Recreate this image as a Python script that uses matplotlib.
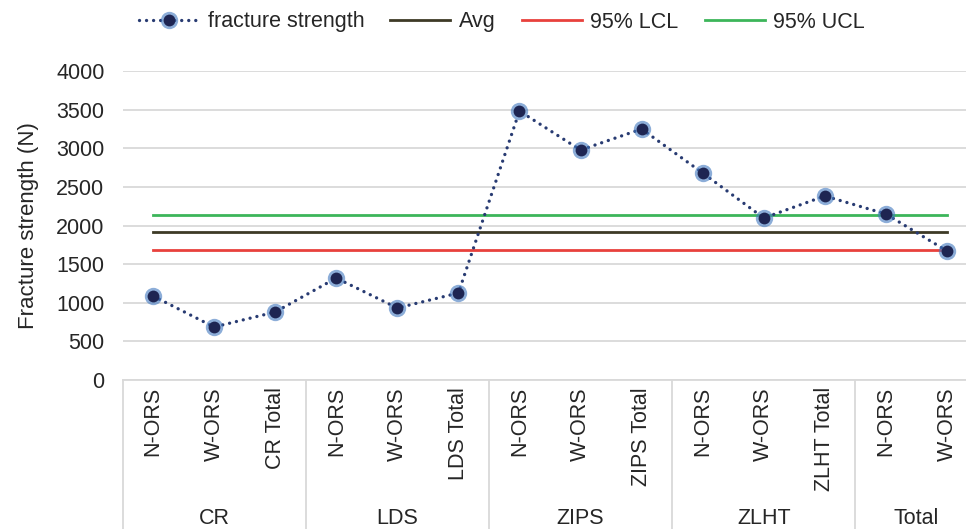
import matplotlib.pyplot as plt
from matplotlib.lines import Line2D
import matplotlib.transforms as mtransforms

plt.rcParams['font.family'] = ['Liberation Sans', 'DejaVu Sans']

# data
groups = ['CR', 'LDS', 'ZIPS', 'ZLHT', 'Total']
sub_labels = ['N-ORS', 'W-ORS', 'CR Total',
              'N-ORS', 'W-ORS', 'LDS Total',
              'N-ORS', 'W-ORS', 'ZIPS Total',
              'N-ORS', 'W-ORS', 'ZLHT Total',
              'N-ORS', 'W-ORS']
group_sizes = [3, 3, 3, 3, 2]
strength = [1087, 686, 880, 1320, 932, 1126, 3482, 2977, 3249,
            2680, 2097, 2382, 2149, 1670]
avg = 1916
lcl = 1683
ucl = 2136

W, H = 966, 529
FS = 15.5
TXT = '#262626'
fig = plt.figure(figsize=(W / 100, H / 100), dpi=100)
left, right, top, bottom = 122.5, 977.5, 71, 380
ax = fig.add_axes([left / W, (H - bottom) / H, (right - left) / W, (bottom - top) / H])

x = list(range(len(strength)))
ax.set_xlim(-0.5, len(strength) - 0.5)
ax.set_ylim(0, 4000)
ax.set_yticks(range(0, 4001, 500))
ax.yaxis.grid(True, color='#d9d9d9', linewidth=1.3)
ax.set_axisbelow(True)
for s in ax.spines.values():
    s.set_visible(False)
ax.tick_params(axis='y', length=0, pad=13, labelsize=FS, labelcolor=TXT)
ax.tick_params(axis='x', length=0, labelbottom=False)

dots = (0, (0.01, 2.1))
ax.plot([x[0], x[-1]], [ucl, ucl], color='#3cb55a', lw=2, zorder=2)
ax.plot([x[0], x[-1]], [avg, avg], color='#3d3a26', lw=2, zorder=2)
ax.plot([x[0], x[-1]], [lcl, lcl], color='#e8413c', lw=2, zorder=2)
ax.plot(x, strength, linestyle=dots, dash_capstyle='round', color='#283b72', lw=2.4, zorder=3)
ax.plot(x, strength, 'o', markersize=12.5, color='#3f77bf', alpha=0.6, zorder=4, mew=0)
ax.plot(x, strength, 'o', markersize=8.5, color='#1e2552', zorder=5, mew=0)

ax.set_ylabel('Fracture strength (N)', fontsize=16, color=TXT, labelpad=12)

# category axis below the plot
trans = mtransforms.blended_transform_factory(ax.transData, ax.transAxes)
ph = bottom - top
depth = -(H - bottom) / ph
ax.plot([-0.5, 13.5], [0, 0], color='#d9d9d9', lw=1.3, transform=trans, clip_on=False)
for i, lab in enumerate(sub_labels):
    ax.text(i, -7 / ph, lab, rotation=90, ha='center', va='top', fontsize=FS,
            color=TXT, transform=trans, clip_on=False)
pos = -0.5
for g, n in zip(groups, group_sizes):
    ax.plot([pos, pos], [0, depth], color='#d9d9d9', lw=1.3, transform=trans, clip_on=False)
    ax.text(pos + n / 2, -(519 - bottom) / ph, g, ha='center', va='center', fontsize=FS,
            color=TXT, transform=trans, clip_on=False)
    pos += n
ax.plot([pos, pos], [0, depth], color='#d9d9d9', lw=1.3, transform=trans, clip_on=False)

handles = [
    (Line2D([], [], linestyle=dots, dash_capstyle='round', color='#283b72', lw=2.4),
     Line2D([], [], marker='o', linestyle='', markersize=12.5, color='#3f77bf', alpha=0.6, mew=0),
     Line2D([], [], marker='o', linestyle='', markersize=8.5, color='#1e2552', mew=0)),
    Line2D([], [], color='#3d3a26', lw=2),
    Line2D([], [], color='#e8413c', lw=2),
    Line2D([], [], color='#3cb55a', lw=2),
]
labels = ['fracture strength', 'Avg', '95% LCL', '95% UCL']
fig.legend(handles, labels, ncol=4, loc='center', bbox_to_anchor=(502 / W, 1 - 22 / H),
           frameon=False, fontsize=FS, handlelength=2.8, handletextpad=0.4,
           columnspacing=1.2, labelcolor=TXT)

fig.savefig('out.png', dpi=100)
